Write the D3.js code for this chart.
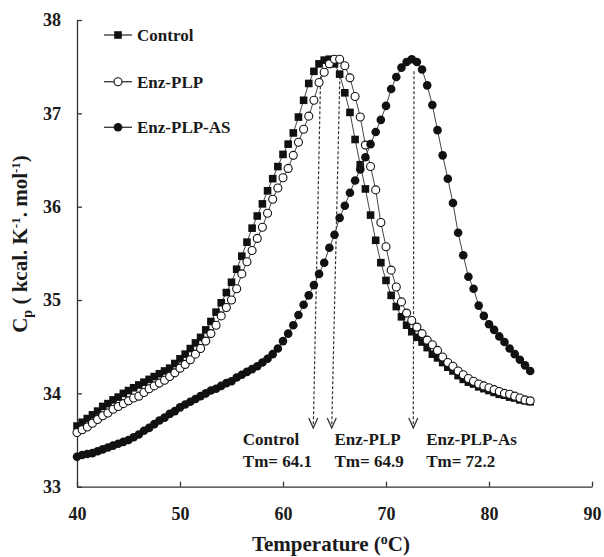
<!DOCTYPE html>
<html>
<head>
<meta charset="utf-8">
<script src="https://cdn.jsdelivr.net/npm/d3@7/dist/d3.min.js"></script>
<style>
  body { margin: 0; background: #fff; }
  svg { display: block; background: #fff; }
  text { font-family: "Liberation Serif", "Times New Roman", serif; font-weight: bold; fill: #1a1a1a; white-space: pre; }
</style>
</head>
<body>
<script>
// temperature (oC) of each scan point
var temps = [40, 40.5, 41, 41.5, 42, 42.5, 43, 43.5, 44, 44.5, 45, 45.5, 46, 46.5, 47, 47.5,
  48, 48.5, 49, 49.5, 50, 50.5, 51, 51.5, 52, 52.5, 53, 53.5, 54, 54.5, 55, 55.5,
  56, 56.5, 57, 57.5, 58, 58.5, 59, 59.5, 60, 60.5, 61, 61.5, 62, 62.5, 63, 63.5,
  64, 64.5, 65, 65.5, 66, 66.5, 67, 67.5, 68, 68.5, 69, 69.5, 70, 70.5, 71, 71.5,
  72, 72.5, 73, 73.5, 74, 74.5, 75, 75.5, 76, 76.5, 77, 77.5, 78, 78.5, 79, 79.5,
  80, 80.5, 81, 81.5, 82, 82.5, 83, 83.5, 84];

var control = [33.65, 33.69, 33.73, 33.77, 33.81, 33.86, 33.89, 33.93, 33.96, 34.00, 34.03, 34.06, 34.09, 34.12, 34.15, 34.18,
  34.21, 34.24, 34.27, 34.32, 34.37, 34.42, 34.48, 34.54, 34.60, 34.68, 34.77, 34.87, 34.97, 35.08, 35.19, 35.33,
  35.47, 35.62, 35.77, 35.90, 36.03, 36.17, 36.30, 36.43, 36.56, 36.67, 36.79, 36.96, 37.14, 37.32, 37.45, 37.53,
  37.57, 37.58, 37.53, 37.42, 37.22, 37.01, 36.72, 36.45, 36.19, 35.91, 35.64, 35.40, 35.21, 35.05, 34.93, 34.82,
  34.73, 34.66, 34.60, 34.55, 34.49, 34.42, 34.38, 34.33, 34.28, 34.24, 34.19, 34.15, 34.12, 34.10, 34.07, 34.05,
  34.03, 34.01, 33.99, 33.98, 33.96, 33.95, 33.93, 33.92, 33.91];

var enzPLP = [33.58, 33.61, 33.64, 33.68, 33.72, 33.76, 33.79, 33.83, 33.86, 33.89, 33.92, 33.95, 33.97, 34.01, 34.05, 34.08,
  34.11, 34.14, 34.18, 34.22, 34.27, 34.31, 34.36, 34.42, 34.48, 34.56, 34.64, 34.73, 34.83, 34.92, 35.00, 35.12,
  35.28, 35.41, 35.53, 35.66, 35.78, 35.93, 36.08, 36.20, 36.31, 36.41, 36.55, 36.69, 36.83, 36.97, 37.14, 37.33,
  37.44, 37.53, 37.58, 37.58, 37.51, 37.38, 37.18, 36.96, 36.66, 36.43, 36.18, 35.83, 35.57, 35.32, 35.14, 34.98,
  34.86, 34.78, 34.71, 34.64, 34.57, 34.52, 34.46, 34.39, 34.33, 34.29, 34.24, 34.20, 34.16, 34.13, 34.10, 34.08,
  34.06, 34.04, 34.02, 34.00, 33.99, 33.97, 33.95, 33.93, 33.92];

var enzPLPAS = [33.32, 33.34, 33.35, 33.36, 33.38, 33.40, 33.42, 33.44, 33.46, 33.48, 33.50, 33.53, 33.56, 33.60, 33.63, 33.67,
  33.71, 33.74, 33.78, 33.81, 33.85, 33.88, 33.91, 33.94, 33.97, 34.00, 34.03, 34.05, 34.08, 34.11, 34.13, 34.17,
  34.20, 34.23, 34.26, 34.29, 34.33, 34.37, 34.42, 34.48, 34.56, 34.64, 34.73, 34.84, 34.95, 35.05, 35.16, 35.28,
  35.40, 35.56, 35.70, 35.88, 36.01, 36.15, 36.28, 36.40, 36.53, 36.67, 36.80, 36.93, 37.08, 37.26, 37.39, 37.49,
  37.55, 37.58, 37.55, 37.47, 37.30, 37.09, 36.82, 36.55, 36.30, 36.04, 35.72, 35.48, 35.25, 35.12, 34.94, 34.83,
  34.74, 34.68, 34.61, 34.55, 34.48, 34.42, 34.36, 34.30, 34.24];

var seriesNames = ["Control", "Enz-PLP", "Enz-PLP-AS"];
var xTicks = [40, 50, 60, 70, 80, 90];
var yTicks = [33, 34, 35, 36, 37, 38];

// melting temperature annotations
var tmNames = ["Control", "Enz-PLP", "Enz-PLP-As"];
var tmValues = ["64.1", "64.9", "72.2"];
var arrowTopT = [63.66, 65.53, 72.72];
var arrowBottomT = [62.94, 64.73, 72.65];
var arrowTopCp = 37.45;
var arrowBottomCp = 33.63;
var tmLabelT = [56.1, 65.0, 73.9];

var width = 604, height = 557;

var svg = d3.select("body").append("svg")
    .attr("width", width)
    .attr("height", height);

var x = d3.scaleLinear().domain([40, 90]).range([77, 592]);
var y = d3.scaleLinear().domain([33, 38]).range([486.7, 20]);

// axes, ticks point inward
var xAxis = d3.axisBottom(x).tickValues(xTicks).tickFormat(d3.format("d"))
    .tickSize(-5).tickSizeOuter(0).tickPadding(21);
var yAxis = d3.axisLeft(y).tickValues(yTicks).tickFormat(d3.format("d"))
    .tickSize(-5).tickSizeOuter(0).tickPadding(16);

var gx = svg.append("g").attr("transform", "translate(0,486.7)").call(xAxis);
var gy = svg.append("g").attr("transform", "translate(77,0)").call(yAxis);

[gx, gy].forEach(function(g) {
    g.selectAll("path, line").attr("stroke", "#333").attr("stroke-width", 1.3);
    g.selectAll("text")
        .style("font-family", "'Liberation Serif', serif")
        .style("font-weight", "bold")
        .style("font-size", "18px")
        .attr("fill", "#1a1a1a");
});

// axis titles
var xlab = svg.append("text")
    .attr("x", 331)
    .attr("y", 551)
    .attr("text-anchor", "middle")
    .style("font-size", "21px");
xlab.append("tspan").text("Temperature (");
xlab.append("tspan").attr("dy", -7).style("font-size", "14px").text("o");
xlab.append("tspan").attr("dy", 7).text("C)");

var ylab = svg.append("text")
    .attr("transform", "translate(27,244) rotate(-90)")
    .attr("text-anchor", "middle")
    .style("font-size", "21px");
ylab.append("tspan").text("C");
ylab.append("tspan").attr("dy", 5).style("font-size", "14px").text("p");
ylab.append("tspan").attr("dy", -5).text("\u00a0( kcal. K");
ylab.append("tspan").attr("dy", -7).style("font-size", "13px").text("-1");
ylab.append("tspan").attr("dy", 7).text(".\u00a0mol");
ylab.append("tspan").attr("dy", -7).style("font-size", "13px").text("-1");
ylab.append("tspan").attr("dy", 7).text(")");

// dashed arrows down from the peaks
var arrows = svg.append("g");
tmNames.forEach(function(name, i) {
    var x1 = x(arrowTopT[i]), y1 = y(arrowTopCp);
    var x2 = x(arrowBottomT[i]), y2 = y(arrowBottomCp);
    arrows.append("line")
        .attr("x1", x1).attr("y1", y1).attr("x2", x2).attr("y2", y2)
        .attr("stroke", "#333").attr("stroke-width", 1.2)
        .attr("stroke-dasharray", "3,2");
    arrows.append("path")
        .attr("d", "M" + (x2 - 4.5) + "," + (y2 - 10) + "L" + x2 + "," + y2 + "L" + (x2 + 4.5) + "," + (y2 - 10))
        .attr("fill", "none").attr("stroke", "#333").attr("stroke-width", 1.3);

    svg.append("text")
        .attr("x", x(tmLabelT[i]))
        .attr("y", 445)
        .style("font-size", "17px")
        .text(name);
    svg.append("text")
        .attr("x", x(tmLabelT[i]))
        .attr("y", 467)
        .style("font-size", "17px")
        .text("Tm= " + tmValues[i]);
});

// series
var allSeries = [control, enzPLP, enzPLPAS];
var line = d3.line()
    .x(function(d, i) { return x(temps[i]); })
    .y(function(d) { return y(d); });

function drawMarker(g, kind, cx, cy) {
    if (kind === 0) {
        g.append("rect")
            .attr("x", cx - 3.8).attr("y", cy - 3.8)
            .attr("width", 7.6).attr("height", 7.6)
            .attr("fill", "#111");
    } else if (kind === 1) {
        g.append("circle")
            .attr("cx", cx).attr("cy", cy).attr("r", 4)
            .attr("fill", "#fff").attr("stroke", "#111").attr("stroke-width", 1.1);
    } else {
        g.append("circle")
            .attr("cx", cx).attr("cy", cy).attr("r", 4.3)
            .attr("fill", "#111");
    }
}

allSeries.forEach(function(vals, k) {
    var g = svg.append("g");
    g.append("path")
        .datum(vals)
        .attr("d", line)
        .attr("fill", "none")
        .attr("stroke", "#444")
        .attr("stroke-width", 1);
    vals.forEach(function(v, i) {
        drawMarker(g, k, x(temps[i]), y(v));
    });
});

// legend
var legendY = [35, 81.7, 127.3];
seriesNames.forEach(function(name, k) {
    var g = svg.append("g");
    g.append("line")
        .attr("x1", 104).attr("x2", 132)
        .attr("y1", legendY[k]).attr("y2", legendY[k])
        .attr("stroke", "#333").attr("stroke-width", 1.3);
    drawMarker(g, k, 118, legendY[k]);
    g.append("text")
        .attr("x", 137)
        .attr("y", legendY[k])
        .attr("dy", "0.35em")
        .style("font-size", "17px")
        .text(name);
});
</script>
</body>
</html>
